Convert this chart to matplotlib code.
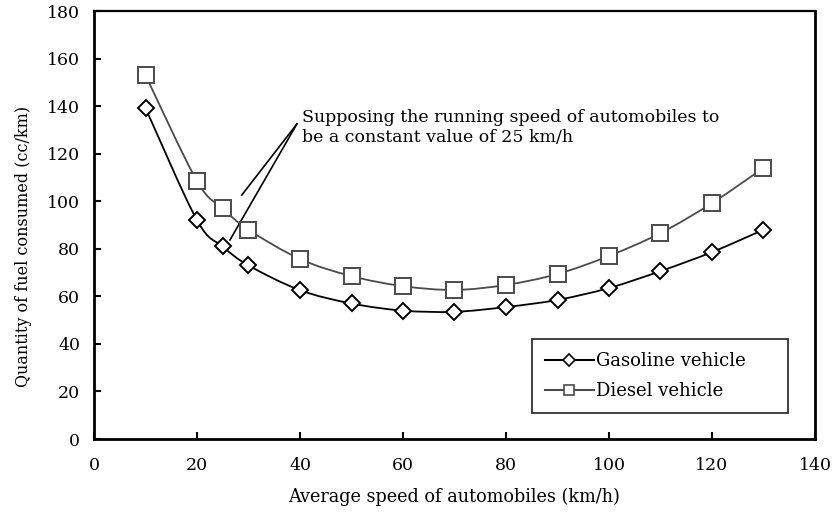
import numpy as np
import matplotlib.pyplot as plt
from matplotlib.path import Path
from matplotlib.patches import PathPatch

plt.rcParams['font.family'] = ['DejaVu Serif']

# data
speed = [10, 20, 25, 30, 40, 50, 60, 70, 80, 90, 100, 110, 120, 130]
gasoline = [139.2, 92, 81, 73, 62.6, 57, 54, 53.5, 55.5, 58.5, 63.5, 70.6, 78.6, 88]
diesel = [153, 108.5, 97, 88, 75.7, 68.5, 64.3, 62.7, 64.8, 69.4, 77, 86.6, 99.2, 114]
note = "Supposing the running speed of automobiles to\nbe a constant value of 25 km/h"


def smooth_path(ax, xs, ys, color, lw):
    # Excel-style smoothed line: cubic bezier segments through the points
    pts = ax.transData.transform(np.column_stack([xs, ys]))
    verts = [pts[0]]
    codes = [Path.MOVETO]
    n = len(pts)
    for i in range(n - 1):
        p0 = pts[i - 1] if i > 0 else pts[i]
        p1 = pts[i]
        p2 = pts[i + 1]
        p3 = pts[i + 2] if i + 2 < n else pts[i + 1]
        verts += [p1 + (p2 - p0) / 6.0, p2 - (p3 - p1) / 6.0, p2]
        codes += [Path.CURVE4] * 3
    patch = PathPatch(Path(verts, codes), transform=None, fill=False,
                      edgecolor=color, lw=lw, zorder=2)
    ax.add_artist(patch)


fig = plt.figure(figsize=(8.34, 5.13), dpi=100)
ax = fig.add_axes([94 / 834, 1 - 439 / 513, 721 / 834, 428 / 513])
ax.set_xlim(0, 140)
ax.set_ylim(0, 180)
ax.set_xticks(range(0, 141, 20))
ax.set_yticks(range(0, 181, 20))
ax.tick_params(direction='in', length=5, width=1.5, labelsize=12.5)
ax.tick_params(axis='x', pad=13)
ax.tick_params(axis='y', pad=10)

for side in ['left', 'bottom', 'right']:
    ax.spines[side].set_linewidth(2)
ax.spines['top'].set_linewidth(1.6)

fig.canvas.draw()
smooth_path(ax, speed, gasoline, 'black', 1.3)
smooth_path(ax, speed, diesel, '#4a4a4a', 1.3)

ax.plot(speed, gasoline, linestyle='none', marker='D', ms=8, mfc='white',
        mec='black', mew=1.4, zorder=3)
ax.plot(speed, diesel, linestyle='none', marker='s', ms=11, mfc='white',
        mec='#4a4a4a', mew=1.4, zorder=3)

# legend handles
ax.plot([], [], color='black', lw=1.5, marker='D', ms=6, mfc='white',
        mec='black', mew=1.2, label='Gasoline vehicle')
ax.plot([], [], color='#4a4a4a', lw=1.5, marker='s', ms=7, mfc='white',
        mec='#4a4a4a', mew=1.2, label='Diesel vehicle')
handles, labels = ax.get_legend_handles_labels()
leg = ax.legend(handles, labels, loc='lower left', mode='expand',
                bbox_to_anchor=(0.6075, 0.0607, 0.355, 0.175),
                fontsize=13, frameon=True, fancybox=False, edgecolor='black',
                handlelength=2.7, handletextpad=0.15, borderpad=0.72,
                labelspacing=0.65, borderaxespad=0)
leg.get_frame().set_linewidth(1.3)

ax.text(40.3, 138.8, note, fontsize=12.5, va='top', ha='left', linespacing=1.2)
ax.plot([39.4, 28.7], [132.5, 102.6], color='black', lw=1.2)
ax.plot([39.4, 26.4], [132.5, 83.7], color='black', lw=1.2)

ax.set_xlabel('Average speed of automobiles (km/h)', fontsize=12.7, labelpad=10)
ax.set_ylabel('Quantity of fuel consumed (cc/km)', fontsize=11.5)
ax.yaxis.set_label_coords(-0.086, 0.449)

fig.savefig('out.png', dpi=100)
